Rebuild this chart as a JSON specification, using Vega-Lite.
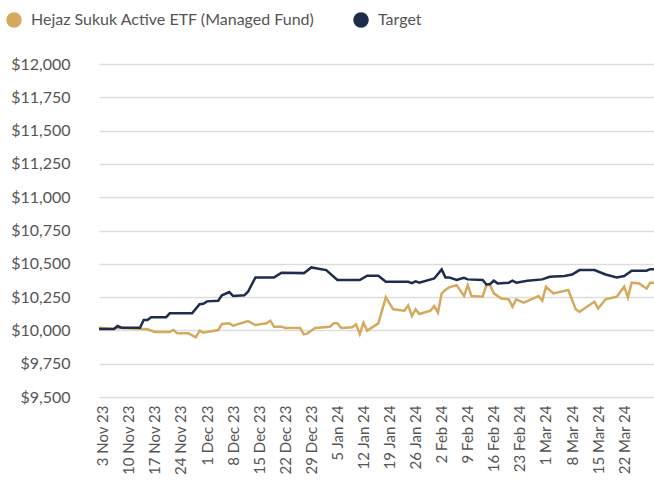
{
  "$schema": "https://vega.github.io/schema/vega-lite/v6.json",
  "width": 555,
  "height": 333,
  "autosize": "none",
  "padding": {"left": 99, "top": 64, "right": 0, "bottom": 97},
  "background": "white",
  "config": {"font": "Lato", "view": {"stroke": null}},
  "datasets": {
    "target": [
      {"d":"2023-11-02","v":10010},{"d":"2023-11-06","v":10010},{"d":"2023-11-07","v":10033},{"d":"2023-11-08","v":10020},
      {"d":"2023-11-13","v":10020},{"d":"2023-11-14","v":10078},{"d":"2023-11-15","v":10078},{"d":"2023-11-16","v":10098},
      {"d":"2023-11-20","v":10098},{"d":"2023-11-21","v":10128},{"d":"2023-11-27","v":10128},{"d":"2023-11-29","v":10196},
      {"d":"2023-11-30","v":10200},{"d":"2023-12-01","v":10218},{"d":"2023-12-04","v":10223},{"d":"2023-12-05","v":10263},
      {"d":"2023-12-07","v":10288},{"d":"2023-12-08","v":10258},{"d":"2023-12-11","v":10263},{"d":"2023-12-12","v":10290},
      {"d":"2023-12-14","v":10398},{"d":"2023-12-19","v":10398},{"d":"2023-12-21","v":10433},{"d":"2023-12-27","v":10430},
      {"d":"2023-12-29","v":10473},{"d":"2024-01-02","v":10453},{"d":"2024-01-05","v":10378},{"d":"2024-01-11","v":10378},
      {"d":"2024-01-13","v":10410},{"d":"2024-01-16","v":10410},{"d":"2024-01-18","v":10365},{"d":"2024-01-24","v":10365},
      {"d":"2024-01-25","v":10355},{"d":"2024-01-26","v":10368},{"d":"2024-01-27","v":10358},{"d":"2024-01-31","v":10390},
      {"d":"2024-02-02","v":10458},{"d":"2024-02-03","v":10398},{"d":"2024-02-04","v":10398},{"d":"2024-02-06","v":10378},
      {"d":"2024-02-08","v":10395},{"d":"2024-02-09","v":10383},{"d":"2024-02-13","v":10378},{"d":"2024-02-14","v":10345},
      {"d":"2024-02-15","v":10348},{"d":"2024-02-16","v":10373},{"d":"2024-02-17","v":10353},{"d":"2024-02-20","v":10358},
      {"d":"2024-02-21","v":10373},{"d":"2024-02-22","v":10358},{"d":"2024-02-25","v":10373},{"d":"2024-02-29","v":10383},
      {"d":"2024-03-02","v":10403},{"d":"2024-03-06","v":10408},{"d":"2024-03-08","v":10420},{"d":"2024-03-10","v":10453},
      {"d":"2024-03-14","v":10453},{"d":"2024-03-17","v":10420},{"d":"2024-03-20","v":10398},{"d":"2024-03-22","v":10408},
      {"d":"2024-03-24","v":10448},{"d":"2024-03-28","v":10448},{"d":"2024-03-29","v":10460},{"d":"2024-03-30","v":10460}
    ],
    "fund": [
      {"d":"2023-11-02","v":10020},{"d":"2023-11-06","v":10010},{"d":"2023-11-07","v":10020},{"d":"2023-11-15","v":10008},
      {"d":"2023-11-17","v":9988},{"d":"2023-11-21","v":9988},{"d":"2023-11-22","v":10003},{"d":"2023-11-23","v":9978},
      {"d":"2023-11-26","v":9978},{"d":"2023-11-28","v":9948},{"d":"2023-11-29","v":9998},{"d":"2023-11-30","v":9983},
      {"d":"2023-12-04","v":10003},{"d":"2023-12-05","v":10048},{"d":"2023-12-07","v":10053},{"d":"2023-12-08","v":10035},
      {"d":"2023-12-12","v":10070},{"d":"2023-12-14","v":10040},{"d":"2023-12-17","v":10053},{"d":"2023-12-18","v":10073},
      {"d":"2023-12-19","v":10028},{"d":"2023-12-21","v":10028},{"d":"2023-12-22","v":10018},{"d":"2023-12-26","v":10018},
      {"d":"2023-12-27","v":9970},{"d":"2023-12-28","v":9978},{"d":"2023-12-30","v":10018},{"d":"2024-01-03","v":10028},
      {"d":"2024-01-04","v":10053},{"d":"2024-01-05","v":10053},{"d":"2024-01-06","v":10018},{"d":"2024-01-09","v":10023},
      {"d":"2024-01-10","v":10046},{"d":"2024-01-11","v":9973},{"d":"2024-01-12","v":10058},{"d":"2024-01-13","v":9998},
      {"d":"2024-01-16","v":10053},{"d":"2024-01-18","v":10248},{"d":"2024-01-20","v":10158},{"d":"2024-01-23","v":10148},
      {"d":"2024-01-24","v":10188},{"d":"2024-01-25","v":10108},{"d":"2024-01-26","v":10158},{"d":"2024-01-27","v":10123},
      {"d":"2024-01-30","v":10148},{"d":"2024-01-31","v":10183},{"d":"2024-02-01","v":10133},{"d":"2024-02-02","v":10278},
      {"d":"2024-02-03","v":10303},{"d":"2024-02-04","v":10323},{"d":"2024-02-06","v":10340},{"d":"2024-02-08","v":10258},
      {"d":"2024-02-09","v":10340},{"d":"2024-02-10","v":10258},{"d":"2024-02-13","v":10253},{"d":"2024-02-14","v":10340},
      {"d":"2024-02-15","v":10340},{"d":"2024-02-16","v":10278},{"d":"2024-02-18","v":10240},{"d":"2024-02-20","v":10233},
      {"d":"2024-02-21","v":10178},{"d":"2024-02-22","v":10233},{"d":"2024-02-24","v":10208},{"d":"2024-02-28","v":10258},
      {"d":"2024-02-29","v":10223},{"d":"2024-03-01","v":10328},{"d":"2024-03-03","v":10278},{"d":"2024-03-07","v":10303},
      {"d":"2024-03-09","v":10158},{"d":"2024-03-10","v":10140},{"d":"2024-03-14","v":10215},{"d":"2024-03-15","v":10165},
      {"d":"2024-03-17","v":10233},{"d":"2024-03-20","v":10253},{"d":"2024-03-22","v":10328},{"d":"2024-03-23","v":10248},
      {"d":"2024-03-24","v":10358},{"d":"2024-03-26","v":10353},{"d":"2024-03-28","v":10315},{"d":"2024-03-29","v":10358},
      {"d":"2024-03-30","v":10358}
    ]
  },
  "encoding": {
    "x": {
      "field": "d", "type": "temporal",
      "scale": {"type": "utc", "nice": false,
        "domain": [{"year": 2023, "month": 11, "date": 2, "utc": true}, {"year": 2024, "month": 3, "date": 30, "utc": true}]},
      "axis": {
        "title": null, "grid": false, "domain": false, "ticks": false,
        "format": "%-d %b %y", "labelAngle": -90, "labelFontSize": 15, "labelColor": "#555555",
        "labelPadding": 8, "labelFlush": false, "labelOverlap": false, "labelBound": false,
        "values": [
          {"year":2023,"month":11,"date":3,"utc":true},{"year":2023,"month":11,"date":10,"utc":true},
          {"year":2023,"month":11,"date":17,"utc":true},{"year":2023,"month":11,"date":24,"utc":true},
          {"year":2023,"month":12,"date":1,"utc":true},{"year":2023,"month":12,"date":8,"utc":true},
          {"year":2023,"month":12,"date":15,"utc":true},{"year":2023,"month":12,"date":22,"utc":true},
          {"year":2023,"month":12,"date":29,"utc":true},{"year":2024,"month":1,"date":5,"utc":true},
          {"year":2024,"month":1,"date":12,"utc":true},{"year":2024,"month":1,"date":19,"utc":true},
          {"year":2024,"month":1,"date":26,"utc":true},{"year":2024,"month":2,"date":2,"utc":true},
          {"year":2024,"month":2,"date":9,"utc":true},{"year":2024,"month":2,"date":16,"utc":true},
          {"year":2024,"month":2,"date":23,"utc":true},{"year":2024,"month":3,"date":1,"utc":true},
          {"year":2024,"month":3,"date":8,"utc":true},{"year":2024,"month":3,"date":15,"utc":true},
          {"year":2024,"month":3,"date":22,"utc":true}
        ]
      }
    },
    "y": {
      "field": "v", "type": "quantitative",
      "scale": {"domain": [9500, 12000], "nice": false, "zero": false},
      "axis": {
        "title": null, "domain": false, "ticks": false, "format": "$,.0f",
        "values": [9500, 9750, 10000, 10250, 10500, 10750, 11000, 11250, 11500, 11750, 12000],
        "labelOverlap": false, "labelBound": false,
        "labelFontSize": 16, "labelColor": "#555555", "labelPadding": 29,
        "gridColor": "#dddddd", "gridWidth": 1.5
      }
    },
    "color": {
      "field": "s", "type": "nominal",
      "scale": {"domain": ["Hejaz Sukuk Active ETF (Managed Fund)", "Target"], "range": ["#D5AA5E", "#1E2D4E"]},
      "legend": {
        "title": null, "orient": "none", "direction": "horizontal",
        "legendX": -93, "legendY": -52,
        "symbolType": "circle", "symbolSize": 240,
        "labelFontSize": 16, "labelColor": "#555555", "labelOffset": 9, "labelLimit": 400,
        "columnPadding": 38,
        "encode": {"symbols": {"update": {"fill": {"scale": "color", "field": "value"}, "strokeWidth": {"value": 0}, "opacity": {"value": 1}}}}
      }
    }
  },
  "layer": [
    {
      "data": {"name": "fund"},
      "transform": [{"calculate": "'Hejaz Sukuk Active ETF (Managed Fund)'", "as": "s"}],
      "mark": {"type": "line", "strokeWidth": 2.5, "interpolate": "linear"}
    },
    {
      "data": {"name": "target"},
      "transform": [{"calculate": "'Target'", "as": "s"}],
      "mark": {"type": "line", "strokeWidth": 2.5, "interpolate": "linear"}
    }
  ]
}
